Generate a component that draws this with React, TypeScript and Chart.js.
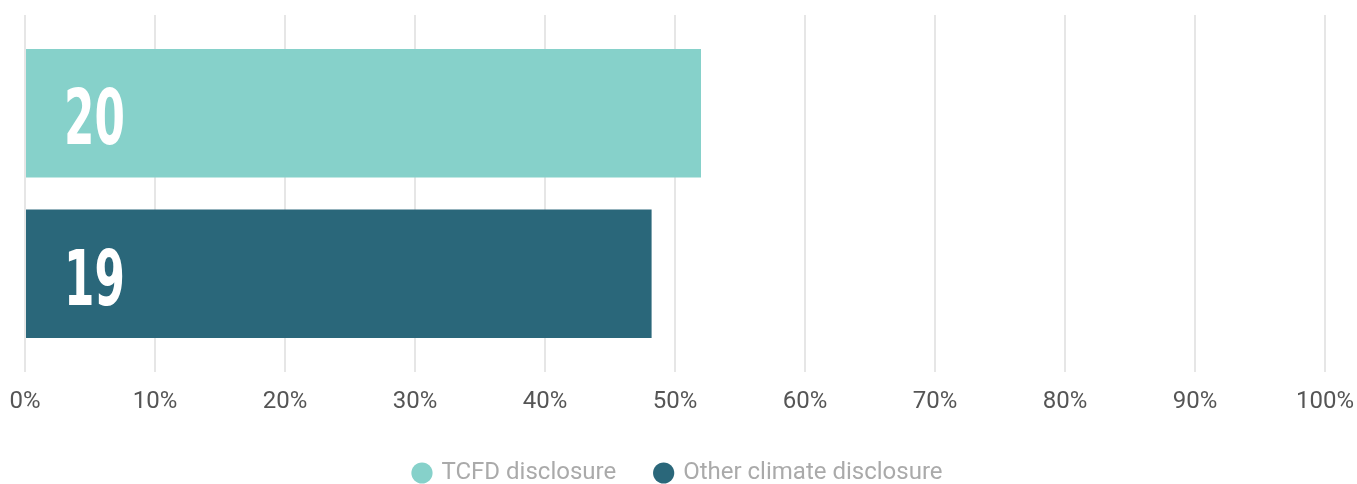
import React, { useEffect, useRef } from "react";
import { Chart, registerables } from "chart.js";

Chart.register(...registerables);

const categories = [""];
const seriesNames = ["TCFD disclosure", "Other climate disclosure"];
const seriesPercent = [52, 48.2];
const seriesCounts = ["20", "19"];
const seriesColors = ["#86D1CA", "#2A677A"];
const xTicks = [0, 10, 20, 30, 40, 50, 60, 70, 80, 90, 100];

const countLabelPlugin = {
  id: "countLabels",
  afterDatasetsDraw(chart: any) {
    const ctx = chart.ctx;
    chart.data.datasets.forEach((ds: any, i: number) => {
      const meta = chart.getDatasetMeta(i);
      meta.data.forEach((bar: any) => {
        const left = chart.scales.x.getPixelForValue(0);
        ctx.save();
        ctx.fillStyle = "#ffffff";
        ctx.font = "bold 76px 'DejaVu Sans Condensed', 'DejaVu Sans'";
        ctx.textBaseline = "alphabetic";
        ctx.textAlign = "left";
        ctx.translate(left + 39, bar.y + 31);
        ctx.scale(0.64, 1);
        ctx.fillText(seriesCounts[i], 0, 0);
        ctx.restore();
      });
    });
  },
};

const legendFitPlugin = {
  id: "legendFit",
  beforeLayout(chart: any) {
    const lg = chart.legend;
    if (lg && !lg.__patched) {
      const orig = lg.fit.bind(lg);
      lg.fit = function () {
        orig();
        this.height = 63;
        this.minSize && (this.minSize.height = 63);
      };
      lg.__patched = true;
    }
  },
};

export default function App() {
  const ref = useRef<HTMLCanvasElement | null>(null);
  useEffect(() => {
    document.body.style.margin = "0";
    const chart = new Chart(ref.current as HTMLCanvasElement, {
      type: "bar",
      data: {
        labels: categories,
        datasets: seriesNames.map((name, i) => ({
          label: name,
          data: [seriesPercent[i]],
          backgroundColor: seriesColors[i],
          borderWidth: 0,
          categoryPercentage: 0.9,
          barPercentage: 0.8,
        })),
      },
      options: {
        indexAxis: "y",
        animation: false,
        responsive: false,
        maintainAspectRatio: false,
        layout: { padding: { top: 15, left: 0, right: 0, bottom: 0 } },
        scales: {
          x: {
            min: 0,
            max: 100,
            afterBuildTicks: (axis: any) => {
              axis.ticks = xTicks.map((v) => ({ value: v }));
            },
            afterFit: (s: any) => {
              s.paddingLeft = 25;
              s.paddingRight = 32;
              s.height = 49;
            },
            grid: { color: "#e6e6e6", lineWidth: 2, drawTicks: false },
            border: { display: false },
            ticks: {
              padding: 16,
              color: "#555555",
              font: { family: "Roboto", size: 24 },
              callback: (v: any) => v + "%",
            },
          },
          y: {
            display: false,
            grid: { display: false },
          },
        },
        plugins: {
          tooltip: { enabled: false },
          legend: {
            position: "bottom",
            labels: {
              usePointStyle: true,
              pointStyle: "circle",
              boxWidth: 15,
              boxHeight: 15,
              padding: 40,
              color: "#aaaaaa",
              font: { family: "Roboto", size: 24 },
            },
          },
        },
      },
      plugins: [countLabelPlugin, legendFitPlugin],
    } as any);
    return () => chart.destroy();
  }, []);
  return <canvas ref={ref} width={1357} height={484} style={{ display: "block" }} />;
}
